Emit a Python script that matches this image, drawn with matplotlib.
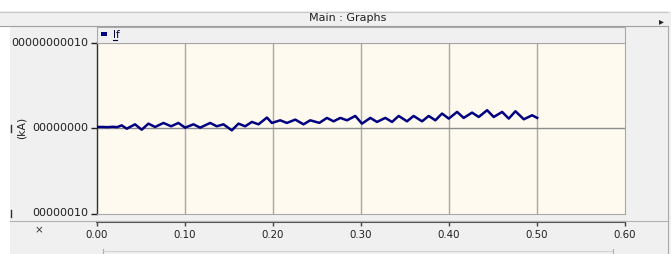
import matplotlib
matplotlib.use("Agg")
import matplotlib.pyplot as plt
from matplotlib.patches import Rectangle
from matplotlib.lines import Line2D

# ---- data (y in units of 1e-10 kA), peaks/troughs ----
t = [0.000, 0.006, 0.012, 0.018, 0.023, 0.028, 0.0338, 0.0432, 0.0508, 0.0584,
     0.066, 0.0755, 0.0842, 0.0925, 0.1001, 0.1096, 0.1172, 0.1286, 0.1361, 0.1437,
     0.1532, 0.1608, 0.1684, 0.176, 0.1835, 0.1931, 0.1987, 0.2082, 0.2158, 0.2253,
     0.2347, 0.2423, 0.2527, 0.2613, 0.2688, 0.2765, 0.2841, 0.2935, 0.3011, 0.3106,
     0.3182, 0.3276, 0.3353, 0.3428, 0.3523, 0.3598, 0.3694, 0.3769, 0.3845, 0.3921,
     0.3997, 0.4092, 0.4167, 0.4262, 0.4338, 0.4433, 0.4508, 0.4604, 0.4679, 0.4755,
     0.485, 0.4945, 0.5002]
If = [0.012, 0.012, 0.010, 0.014, 0.010, 0.031, -0.008, 0.043, -0.020, 0.051,
      0.012, 0.059, 0.020, 0.059, 0.004, 0.043, 0.004, 0.059, 0.020, 0.043,
      -0.027, 0.051, 0.020, 0.071, 0.043, 0.122, 0.059, 0.090, 0.059, 0.098,
      0.043, 0.090, 0.060, 0.118, 0.078, 0.118, 0.090, 0.141, 0.051, 0.118,
      0.071, 0.118, 0.071, 0.141, 0.078, 0.141, 0.078, 0.141, 0.090, 0.169,
      0.110, 0.188, 0.118, 0.180, 0.129, 0.208, 0.129, 0.188, 0.110, 0.196,
      0.102, 0.149, 0.118]

y_ticks = [-1, 0, 1]
y_ticklabels = ["00000010", "00000000", "00000000010"]
x_ticks = [0.0, 0.1, 0.2, 0.3, 0.4, 0.5, 0.6]
x_ticklabels = ["0.00", "0.10", "0.20", "0.30", "0.40", "0.50", "0.60"]

W, H = 671, 254
fig = plt.figure(figsize=(W / 100, H / 100), dpi=100, facecolor="#f0f0f0")
plt.rcParams['font.family'] = ['DejaVu Sans']

def fx(px):
    return px / W

def fy(py):
    return 1 - py / H

def rect(x0, y0, x1, y1, fc, ec="none", lw=0, z=1):
    fig.patches.append(Rectangle((fx(x0), fy(y1)), fx(x1) - fx(x0), fy(y0) - fy(y1),
                                 transform=fig.transFigure, facecolor=fc,
                                 edgecolor=ec, linewidth=lw, zorder=z))

def hline(x0, x1, y, c, lw=1, z=2):
    fig.lines.append(Line2D([fx(x0), fx(x1)], [fy(y), fy(y)], transform=fig.transFigure,
                            color=c, linewidth=lw, zorder=z))

def vline(x, y0, y1, c, lw=1, z=2):
    fig.lines.append(Line2D([fx(x), fx(x)], [fy(y0), fy(y1)], transform=fig.transFigure,
                            color=c, linewidth=lw, zorder=z))

# window chrome
rect(0, 0, W, 11.5, "white", z=1)
rect(0, 11.5, W, 25.5, "#f0f0f0", z=1)
hline(0, 668, 11.5, "#c8c8c8", 0.8)
hline(0, 668, 25.5, "#a0a0a0", 0.8)
rect(0, 25.5, 10, H, "white", z=1)
vline(667.5, 25.5, H, "#a8a8a8", 0.8)
fig.text(fx(348), fy(18), "Main : Graphs", ha="center", va="center", fontsize=8.0, color="#202020")
fig.text(fx(661), fy(21.5), "\u25B8", ha="center", va="center", fontsize=7, color="#202020")

# legend bar
rect(97, 27, 625, 42.5, "#f0f0f0", ec="#a8a8a8", lw=0.8, z=2)
rect(100.5, 31.5, 106.5, 35.5, "#000080", z=3)
fig.text(fx(112.5), fy(34.5), "If", ha="left", va="center", fontsize=7.6, color="#000040")
hline(112.5, 117, 39.5, "#000040", 0.8, z=3)

# main plot axes
ax = fig.add_axes([fx(97), fy(213.5), fx(625) - fx(97), fy(42.5) - fy(213.5)])
ax.set_facecolor("#fffaef")
ax.set_xlim(0, 0.6)
ax.set_ylim(-1, 1)
for x in x_ticks[1:-1]:
    ax.axvline(x, color="#a8a8a8", lw=1.0, zorder=1)
ax.axhline(0, color="#8c8c8c", lw=1.0, zorder=1)
ax.plot(t, If, color="#000080", lw=1.8, zorder=3, solid_joinstyle="round")
ax.set_xticks([])
ax.set_yticks(y_ticks)
ax.set_yticklabels([])
ax.tick_params(axis="y", direction="out", length=4.5, width=1, color="#202020")
ax.spines["left"].set_color("#303030")
ax.spines["left"].set_linewidth(1.0)
for s in ["top", "right", "bottom"]:
    ax.spines[s].set_color("#a8a8a8")
    ax.spines[s].set_linewidth(0.8)

# y tick labels (clipped as in the screenshot)
for yv, lab in zip(y_ticks, y_ticklabels):
    py = 128 - yv * 85.5
    fig.text(fx(88.5), fy(py), lab, ha="right", va="center", fontsize=8.0, color="#202020", zorder=3)
# partial glyph remnants left of the unit box
for py in (128, 213.5):
    vline(11.2, py - 3.5, py + 3.5, "#303030", 1.0, z=6)
rect(12.5, 100, 32.5, 220, "#f0f0f0", z=5)
fig.text(fx(21.5), fy(128), "(kA)", ha="center", va="center", rotation=90,
         fontsize=7.8, color="#202020", zorder=6)

# x axis strip
hline(10, 667.5, 220.8, "#b4b4b4", 0.8)
ax2 = fig.add_axes([fx(97), fy(222), fx(625) - fx(97), 0.0001])
ax2.set_xlim(0, 0.6)
ax2.set_yticks([])
ax2.set_xticks(x_ticks)
ax2.set_xticklabels(x_ticklabels, fontsize=7.4, color="#202020")
ax2.tick_params(axis="x", direction="out", length=3, width=1, pad=2.5, color="#404040")
ax2.patch.set_visible(False)
for s in ["top", "right", "left"]:
    ax2.spines[s].set_visible(False)
ax2.spines["bottom"].set_color("#505050")
ax2.spines["bottom"].set_linewidth(1.5)
fig.text(fx(39), fy(230), "\u00d7", ha="center", va="center", fontsize=7.5, color="#303030")

# scroll bar remnants at bottom
hline(103, 613, 251, "#d4d4d4", 0.8)
vline(103, 249, H, "#b0b0b0", 0.8)
vline(613, 249, H, "#b0b0b0", 0.8)

fig.savefig("out.png", dpi=100, facecolor=fig.get_facecolor())
